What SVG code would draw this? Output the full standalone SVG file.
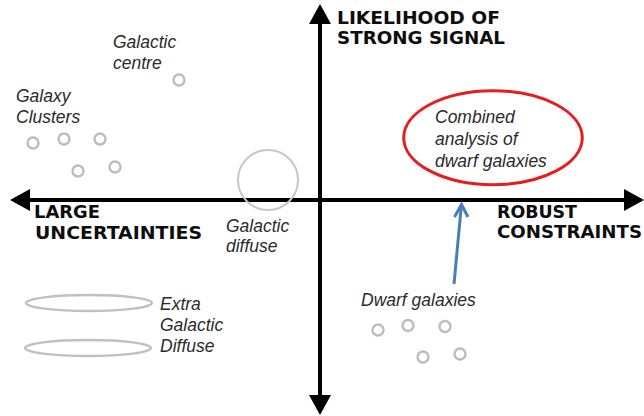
<svg xmlns="http://www.w3.org/2000/svg" width="644" height="416" viewBox="0 0 644 416">
<style>
.lbl{font-family:"Liberation Sans",Arial,sans-serif;font-style:italic;font-size:17.5px;fill:#2b2b2b}
.ax{font-family:"DejaVu Sans",Verdana,sans-serif;font-weight:bold;font-size:18px;fill:#0d0d0d}
.dot{fill:none;stroke:#bdbdbd;stroke-width:2.4}
.axis{stroke:#000;stroke-width:4;fill:none}
</style>
<defs>
<marker id="ah" markerUnits="userSpaceOnUse" markerWidth="20" markerHeight="22" refX="0" refY="11" orient="auto-start-reverse" overflow="visible">
<path d="M0,0 L20,11 L0,22 z" fill="#000"/>
</marker>
</defs>
<rect width="644" height="416" fill="#fff"/>
<g id="connectors">
<path class="axis" d="M30,200 L624,200" marker-start="url(#ah)" marker-end="url(#ah)"/>
<path class="axis" d="M320,24 L320,395" marker-start="url(#ah)" marker-end="url(#ah)"/>
<g stroke="#4a7ebb" stroke-width="3" fill="none">
<path d="M454,284 L461.3,206"/>
<path d="M454.5,217 L461.5,204.5 L468,217" stroke-linejoin="miter"/>
</g>
</g>
<g id="axis-labels">
<text class="ax" x="337" y="24" textLength="163" lengthAdjust="spacingAndGlyphs">LIKELIHOOD OF</text>
<text class="ax" x="337" y="44" textLength="168" lengthAdjust="spacingAndGlyphs">STRONG SIGNAL</text>
<text class="ax" x="34" y="218" textLength="66" lengthAdjust="spacingAndGlyphs">LARGE</text>
<text class="ax" x="35" y="239" textLength="167" lengthAdjust="spacingAndGlyphs">UNCERTAINTIES</text>
<text class="ax" x="497" y="218" textLength="80" lengthAdjust="spacingAndGlyphs">ROBUST</text>
<text class="ax" x="497" y="238" textLength="145" lengthAdjust="spacingAndGlyphs">CONSTRAINTS</text>
</g>
<g id="galactic-centre">
<text class="lbl" x="113" y="48">Galactic</text>
<text class="lbl" x="113" y="69">centre</text>
<circle class="dot" cx="179" cy="80" r="5.5"/>
</g>
<g id="galaxy-clusters">
<text class="lbl" x="16" y="102">Galaxy</text>
<text class="lbl" x="16" y="123">Clusters</text>
<circle class="dot" cx="33" cy="143" r="5.5"/>
<circle class="dot" cx="64" cy="139" r="5.5"/>
<circle class="dot" cx="100" cy="139" r="5.5"/>
<circle class="dot" cx="78" cy="171" r="5.5"/>
<circle class="dot" cx="115" cy="167" r="5.5"/>
</g>
<g id="galactic-diffuse">
<circle cx="268" cy="180" r="30" fill="none" stroke="#c6c6c6" stroke-width="2"/>
<text class="lbl" x="226" y="232">Galactic</text>
<text class="lbl" x="226" y="252">diffuse</text>
</g>
<g id="extra-galactic-diffuse">
<ellipse cx="89" cy="303" rx="63" ry="8" fill="none" stroke="#c0c0c0" stroke-width="2.4"/>
<ellipse cx="88" cy="348" rx="63" ry="8" fill="none" stroke="#c0c0c0" stroke-width="2.4"/>
<text class="lbl" x="160" y="310">Extra</text>
<text class="lbl" x="160" y="331">Galactic</text>
<text class="lbl" x="160" y="352">Diffuse</text>
</g>
<g id="dwarf-galaxies">
<text class="lbl" x="361" y="306">Dwarf galaxies</text>
<circle class="dot" cx="378" cy="330" r="5.5"/>
<circle class="dot" cx="408" cy="325.5" r="5.5"/>
<circle class="dot" cx="445" cy="326.5" r="5.5"/>
<circle class="dot" cx="423" cy="357" r="5.5"/>
<circle class="dot" cx="460" cy="354" r="5.5"/>
</g>
<g id="combined-analysis">
<ellipse cx="493" cy="137.7" rx="89.3" ry="47" fill="none" stroke="#e81c1c" stroke-width="3"/>
<text class="lbl" x="435" y="123">Combined</text>
<text class="lbl" x="435" y="145">analysis of</text>
<text class="lbl" x="435" y="167">dwarf galaxies</text>
</g>
</svg>
